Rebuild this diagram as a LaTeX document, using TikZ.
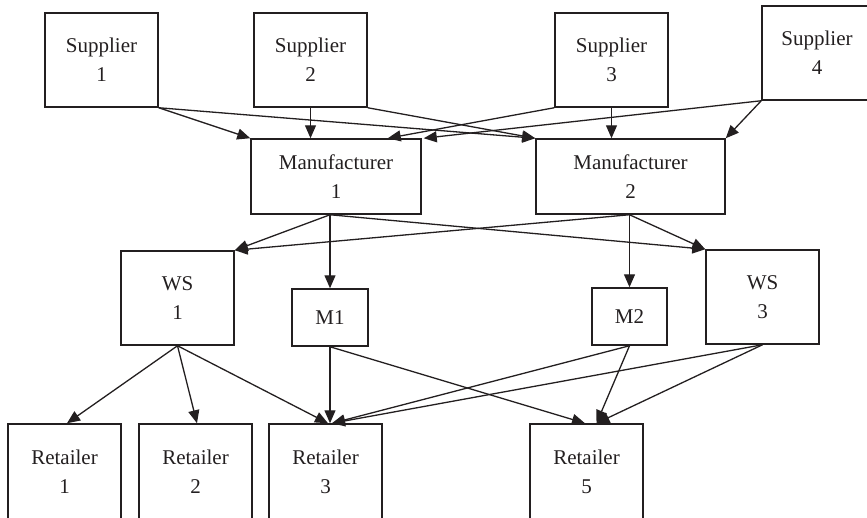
\documentclass[tikz,border=0pt]{standalone}
\usepackage{fontspec}
\setmainfont{Liberation Serif}
\usetikzlibrary{arrows.meta,calc}
\definecolor{ink}{HTML}{231F20}
\tikzset{
  box/.style={draw=ink, line width=1.5pt, rectangle, inner sep=0pt, align=center,
    text=ink, font=\fontsize{21}{29}\selectfont},
  tallbox/.style={box, minimum width=113pt, minimum height=94pt},
  shopbox/.style={draw=ink, line width=1.5pt, rectangle, minimum width=113pt, minimum height=110pt},
  shoptext/.style={inner sep=0pt, align=center, text=ink, font=\fontsize{21}{29}\selectfont},
  flow/.style={draw=ink, line width=1.3pt, -{Triangle[length=13pt,width=11pt]}},
}
\begin{document}
\begin{tikzpicture}[x=1pt,y=-1pt]
\useasboundingbox (0,0) rectangle (867,517);
\clip (0,0) rectangle (867,517);

% suppliers
\node[tallbox] (sup1) at (101.5,60) {Supplier\\1};
\node[tallbox] (sup2) at (310.5,60) {Supplier\\2};
\node[tallbox] (sup3) at (611.5,60) {Supplier\\3};
\node[box, minimum width=110pt, minimum height=94pt] (sup4) at (817,53) {Supplier\\4};

% manufacturers
\node[box, minimum width=170pt, minimum height=75pt] (man1) at (336,176.5) {Manufacturer\\1};
\node[box, minimum width=189pt, minimum height=75pt] (man2) at (630.5,176.5) {Manufacturer\\2};

% wholesalers and manufacturer outlets
\node[tallbox] (ws1) at (177.5,298) {WS\\1};
\node[box, minimum width=76pt, minimum height=57pt] (m1) at (330,317.5) {M1};
\node[box, minimum width=75pt, minimum height=57pt] (m2) at (629.5,316.5) {M2};
\node[tallbox] (ws3) at (762.5,297) {WS\\3};

% retailers: boxes run past the lower edge, labels sit in their upper part
\node[shopbox] (ret1) at (64.5,479) {};
\node[shopbox] (ret2) at (195.5,479) {};
\node[shopbox] (ret3) at (325.5,479) {};
\node[shopbox] (ret5) at (586.5,479) {};
\node[shoptext] (ret1t) at (64.5,471.5) {Retailer\\1};
\node[shoptext] (ret2t) at (195.5,471.5) {Retailer\\2};
\node[shoptext] (ret3t) at (325.5,471.5) {Retailer\\3};
\node[shoptext] (ret5t) at (586.5,471.5) {Retailer\\5};

% anchor points for the connectors
\coordinate (man1out) at (man1.south -| m1.north);
\coordinate (man2out) at (man2.south -| m2.north);
\coordinate (man1inA) at ($(man1.north east)+(-34,0)$);
\coordinate (man1inB) at ($(man1.north east)+(2,0)$);
\coordinate (ret1in) at ($(ret1.north)+(2.5,0)$);
\coordinate (ret2in) at ($(ret2.north)+(1.5,0)$);
\coordinate (ret3inL) at ($(ret3.north)+(2.5,0)$);
\coordinate (ret3inR) at ($(ret3.north)+(6.5,0)$);
\coordinate (ret5inL) at ($(ret5.north)+(-1.5,0)$);
\coordinate (ret5inR) at ($(ret5.north)+(10,0)$);

% suppliers to manufacturers
\draw[flow] (sup1.south east) -- (man1.north west);
\draw[flow] (sup1.south east) -- (man2.north west);
\draw[flow] (sup2.south) -- (sup2.south |- man1.north);
\draw[flow] (sup2.south east) -- (man2.north west);
\draw[flow] (sup3.south west) -- (man1inA);
\draw[flow] (sup3.south) -- (sup3.south |- man2.north);
\draw[flow] (sup4.south west) -- (man1inB);
\draw[flow] (sup4.south west) -- (man2.north east);

% manufacturers to wholesalers and outlets
\draw[flow] (man1out) -- (ws1.north east);
\draw[flow] (man1out) -- (m1.north);
\draw[flow] (man1out) -- (ws3.north west);
\draw[flow] (man2out) -- (ws1.north east);
\draw[flow] (man2out) -- (m2.north);
\draw[flow] (man2out) -- (ws3.north west);

% to retailers
\draw[flow] (ws1.south) -- (ret1in);
\draw[flow] (ws1.south) -- (ret2in);
\draw[flow] (ws1.south) -- (ret3inL);
\draw[flow] (m1.south) -- (m1.south |- ret3.north);
\draw[flow] (m1.south) -- (ret5inL);
\draw[flow] (m2.south) -- (ret3inR);
\draw[flow] (m2.south) -- (ret5inR);
\draw[flow] (ws3.south) -- (ret3inR);
\draw[flow] (ws3.south) -- (ret5inR);
\end{tikzpicture}
\end{document}
